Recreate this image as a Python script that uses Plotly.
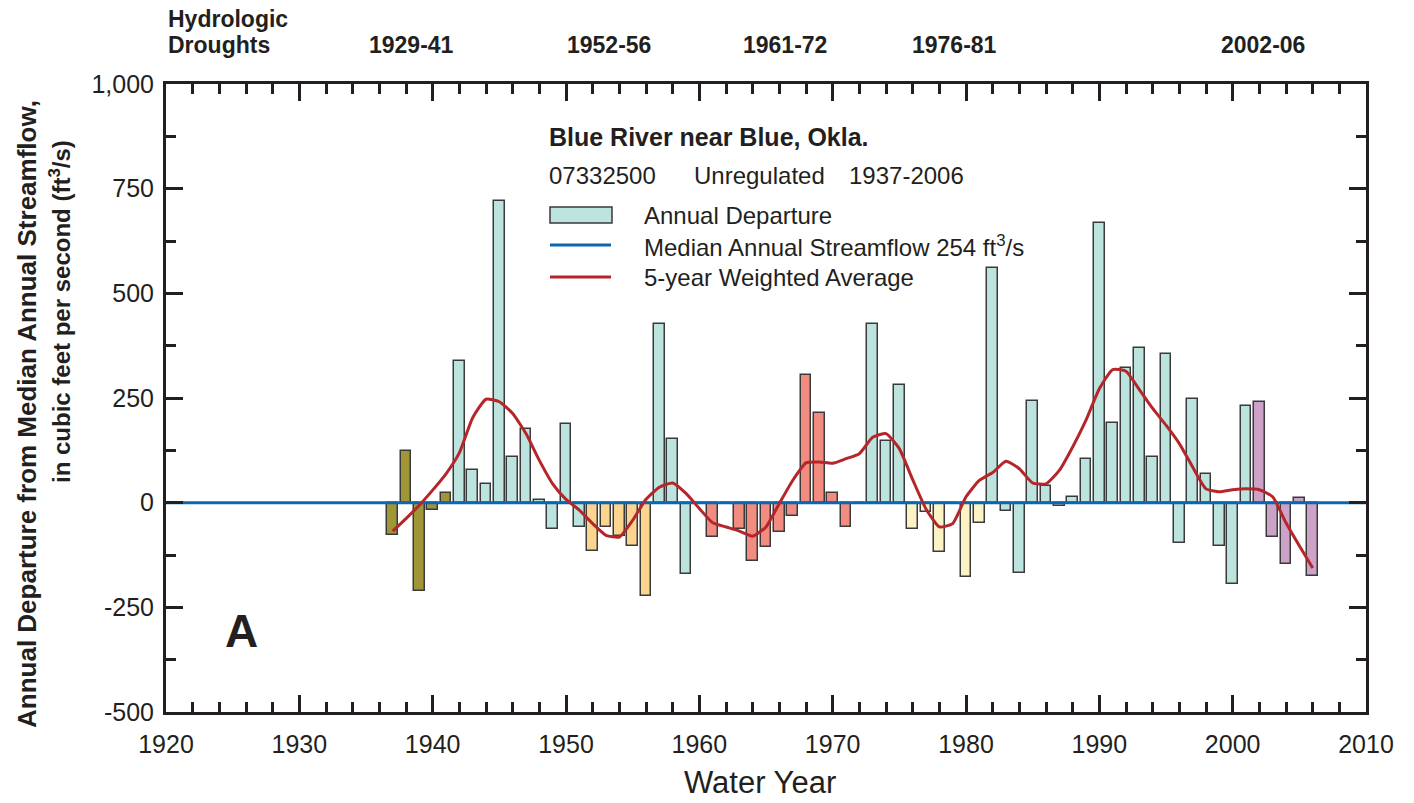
import plotly.graph_objects as go

# Blue River near Blue, Okla. -- annual departure from median streamflow (ft3/s)
years = list(range(1937, 2007))
departure = [
    -77, 123, -211, -17, 24, 339, 78, 45, 720, 108,      # 1937-1946
    175, 6, -62, 188, -59, -115, -59, -79, -103, -224,   # 1947-1956
    426, 152, -171, -4, -81, 0, -62, -140, -106, -69,    # 1957-1966
    -33, 304, 214, 23, -57, 0, 427, 148, 282, -62,       # 1967-1976
    -22, -117, -3, -177, -49, 560, -20, -168, 242, 41,   # 1977-1986
    -9, 13, 105, 667, 190, 322, 369, 108, 354, -97,      # 1987-1996
    248, 69, -104, -195, 230, 241, -83, -147, 12, -175,  # 1997-2006
]
weighted_avg = [
    -68, -38, -6, 30, 69, 119, 203, 247, 241, 213,       # 1937-1946
    165, 101, 45, 8, -18, -50, -78, -82, -42, 8,         # 1947-1956
    37, 47, 22, -14, -48, -58, -68, -80, -58, -2,        # 1957-1966
    53, 95, 97, 94, 105, 117, 156, 165, 129, 55,         # 1967-1976
    -15, -58, -50, 14, 53, 72, 99, 81, 47, 45,           # 1977-1986
    77, 133, 197, 272, 318, 314, 270, 225, 185, 141,     # 1987-1996
    85, 33, 26, 31, 33, 31, 14, -48, -103, -156,         # 1997-2006
]
median_flow = 254

drought_labels = ["1929-41", "1952-56", "1961-72", "1976-81", "2002-06"]
drought_spans = [(1929, 1941), (1952, 1956), (1961, 1972), (1976, 1981), (2002, 2006)]
drought_colors = ["#a09638", "#fdd48e", "#f28c80", "#fbf3c4", "#cda2c9"]
normal_color = "#bde3df"

y_ticks = [-500, -250, 0, 250, 500, 750, 1000]
y_ticktext = ["-500", "-250", "0", "250", "500", "750", "1,000"]

INK = "#231f20"
BLUE = "#0b67b2"
RED = "#b5262b"
FONT = "Liberation Sans, Arial, sans-serif"


def bar_color(yr):
    for (a, b), c in zip(drought_spans, drought_colors):
        if a <= yr <= b:
            return c
    return normal_color


fig = go.Figure()
fig.add_trace(go.Bar(
    x=years, y=departure, width=0.8,
    marker=dict(color=[bar_color(y) for y in years],
                line=dict(color="#3a3a3a", width=1.5)),
    showlegend=False,
))
fig.add_trace(go.Scatter(
    x=[1920, 2010], y=[0, 0], mode="lines",
    line=dict(color=BLUE, width=3), showlegend=False,
))
fig.add_trace(go.Scatter(
    x=years, y=weighted_avg, mode="lines",
    line=dict(color=RED, width=3, shape="spline", smoothing=0.5),
    showlegend=False,
))

# plot-area geometry in page pixels
W, H = 1414, 803
L, R, T, B = 166, 1366, 84, 712


def px(x):
    return (x - L) / (R - L)


def py(y):
    return (B - y) / (B - T)


ann = []


def text(s, x, y, size, bold=False, xanchor="left", angle=0):
    ann.append(dict(
        text=f"<b>{s}</b>" if bold else s,
        x=px(x), y=py(y), xref="paper", yref="paper",
        xanchor=xanchor, yanchor="middle", showarrow=False,
        textangle=angle, font=dict(family=FONT, size=size, color=INK),
    ))


# drought header
text("Hydrologic", 166, 19, 23, bold=True)
text("Droughts", 166, 45, 23, bold=True)
for lab, cx in zip(drought_labels, [411, 609, 785, 954, 1263]):
    text(lab, cx, 45, 23, bold=True, xanchor="center")

# station block
text("Blue River near Blue, Okla.", 547, 137, 25, bold=True)
text("07332500", 547, 175, 24)
text("Unregulated", 692, 175, 24)
text("1937-2006", 847, 175, 24)
text("Annual Departure", 642, 215, 24)
text(f"Median Annual Streamflow {median_flow} ft<sup>3</sup>/s", 642, 246, 24)
text("5-year Weighted Average", 642, 277, 24)

# panel letter
text("A", 241, 631, 46, bold=True, xanchor="center")

# axis titles
text("Annual Departure from Median Annual Streamflow,", 27, 414, 26, bold=True,
     xanchor="center", angle=-90)
text("in cubic feet per second (ft<sup>3</sup>/s)", 60, 312, 24, bold=True,
     xanchor="center", angle=-90)
text("Water Year", 760, 782, 31, xanchor="center")

shapes = [
    dict(type="rect", xref="paper", yref="paper",
         x0=px(550), x1=px(612), y0=py(223), y1=py(207),
         fillcolor=normal_color, line=dict(color="#3a3a3a", width=1.5)),
    dict(type="line", xref="paper", yref="paper",
         x0=px(550), x1=px(611), y0=py(245), y1=py(245),
         line=dict(color=BLUE, width=3)),
    dict(type="line", xref="paper", yref="paper",
         x0=px(550), x1=px(611), y0=py(277), y1=py(277),
         line=dict(color=RED, width=3)),
]

fig.update_layout(
    width=W, height=H,
    margin=dict(l=L, r=W - R, t=T, b=H - B, pad=0),
    paper_bgcolor="white", plot_bgcolor="white",
    font=dict(family=FONT, size=24, color=INK),
    bargap=0, annotations=ann, shapes=shapes,
    xaxis=dict(
        range=[1920, 2010], tickmode="linear", tick0=1920, dtick=10,
        ticks="inside", ticklen=17, tickwidth=2.5, tickcolor=INK,
        minor=dict(dtick=2, ticks="inside", ticklen=10, tickwidth=2.5, tickcolor=INK),
        showline=True, linewidth=3, linecolor=INK, mirror="allticks",
        showgrid=False, zeroline=False, ticklabelstandoff=8,
        tickfont=dict(size=25, color=INK),
    ),
    yaxis=dict(
        range=[-500, 1000], tickvals=y_ticks, ticktext=y_ticktext,
        ticks="inside", ticklen=17, tickwidth=2.5, tickcolor=INK,
        minor=dict(tickvals=[-375, -125, 125, 375, 625, 875], ticks="inside",
                   ticklen=10, tickwidth=2.5, tickcolor=INK),
        showline=True, linewidth=3, linecolor=INK, mirror="allticks",
        showgrid=False, zeroline=False, ticklabelstandoff=4,
        tickfont=dict(size=25, color=INK),
    ),
)

fig.write_html("out.html")
